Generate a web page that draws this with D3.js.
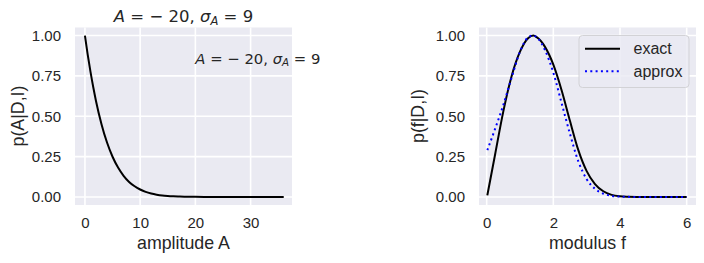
<!DOCTYPE html>
<html><head><meta charset="utf-8">
<script src="https://cdn.jsdelivr.net/npm/d3@7"></script>
<style>body{margin:0;background:#fff}svg{display:block}</style>
</head><body>
<svg id="c" width="704" height="263"></svg>
<script>
// ---- data ----
const ampA  = [0,0.5,1,1.5,2,3,4,5,6,7,8,9,10,11,12,13,14,15,16,17,18,20,22,24,26,28,30,32,34,36];
const probA = [1,0.882,0.776,0.681,0.595,0.451,0.337,0.249,0.182,0.131,0.093,0.066,0.046,0.031,0.021,0.014,0.009,0.006,0.004,0.0025,0.0016,0.0006,0.0002,0,0,0,0,0,0,0];
const modF   = [0.02,0.25,0.5,0.75,1,1.25,1.4,1.5,1.75,2,2.25,2.5,2.75,3,3.25,3.5,3.75,4,4.25,4.5,5,5.5,6];
const exact  = [0.01,0.26,0.53,0.75,0.90,0.985,1.0,0.99,0.93,0.82,0.66,0.47,0.29,0.16,0.08,0.035,0.013,0.004,0.001,0,0,0,0];
const approx = [0.29,0.42,0.57,0.74,0.90,0.99,1.0,0.99,0.91,0.77,0.58,0.39,0.22,0.11,0.05,0.02,0.007,0.002,0.0005,0,0,0,0];
const xTicksA = [0,10,20,30];
const xTicksF = [0,2,4,6];
const yTicks  = [0,0.25,0.5,0.75,1.0];
const legendLabels = ["exact","approx"];

const svg = d3.select("#c");
const BG = "#EAEAF2", TXT = "#262626";
const tickFont = "'Liberation Sans', Arial, sans-serif";
const mathFont = "'DejaVu Sans', sans-serif";

function panel(cfg){
  const x = d3.scaleLinear().domain(cfg.xd).range(cfg.xr);
  const y = d3.scaleLinear().domain([-0.05,1.05]).range([205,27.5]);
  const g = svg.append("g");
  g.append("rect").attr("x",cfg.xr[0]).attr("y",27.5)
    .attr("width",cfg.xr[1]-cfg.xr[0]).attr("height",205-27.5).attr("fill",BG);
  // grid
  g.selectAll(".gx").data(cfg.xt).join("line")
    .attr("x1",d=>x(d)).attr("x2",d=>x(d)).attr("y1",27.5).attr("y2",205)
    .attr("stroke","#fff").attr("stroke-width",1.6);
  g.selectAll(".gy").data(yTicks).join("line")
    .attr("y1",d=>y(d)).attr("y2",d=>y(d)).attr("x1",cfg.xr[0]).attr("x2",cfg.xr[1])
    .attr("stroke","#fff").attr("stroke-width",1.6);
  // axes via d3 axis, no lines
  const ax = g.append("g").attr("transform","translate(0,213)")
    .call(d3.axisBottom(x).tickValues(cfg.xt).tickSize(0).tickPadding(0).tickFormat(d3.format("d")));
  ax.select(".domain").remove();
  ax.selectAll("text").attr("font-family",tickFont).attr("font-size",15).attr("fill",TXT).attr("dy","0.71em").attr("y",4);
  const ay = g.append("g").attr("transform",`translate(${cfg.xr[0]-14},0)`)
    .call(d3.axisLeft(y).tickValues(yTicks).tickSize(0).tickPadding(0).tickFormat(d3.format(".2f")));
  ay.select(".domain").remove();
  ay.selectAll("text").attr("font-family",tickFont).attr("font-size",15).attr("fill",TXT);
  // labels
  g.append("text").attr("x",(cfg.xr[0]+cfg.xr[1])/2).attr("y",248.5).attr("text-anchor","middle")
    .attr("font-family",tickFont).attr("font-size",17.8).attr("fill",TXT).text(cfg.xl);
  g.append("text").attr("transform",`translate(${cfg.ylx},116) rotate(-90)`).attr("text-anchor","middle")
    .attr("font-family",tickFont).attr("font-size",17.8).attr("fill",TXT).text(cfg.yl);
  return {x,y,g};
}

function mathLabel(sel, size){
  sel.attr("font-family",mathFont).attr("font-size",size).attr("fill",TXT);
  sel.append("tspan").attr("font-style","italic").text("A");
  sel.append("tspan").text(" = − 20, ");
  sel.append("tspan").attr("font-style","italic").text("σ");
  sel.append("tspan").attr("font-style","italic").attr("font-size",size*0.7).attr("dy",size*0.2).text("A");
  sel.append("tspan").attr("dy",-size*0.2).text(" = 9");
}

// left panel
const L = panel({xd:[-1.8,37.5], xr:[75,292], xt:xTicksA, xl:"amplitude A", yl:"p(A|D,I)", ylx:24});
const lineL = d3.line().x((d,i)=>L.x(ampA[i])).y(d=>L.y(d)).curve(d3.curveMonotoneX);
L.g.append("path").attr("d",lineL(probA)).attr("fill","none").attr("stroke","#000").attr("stroke-width",2);
const t1 = svg.append("text").attr("x",183.5).attr("y",21.5).attr("text-anchor","middle");
mathLabel(t1, 16.5);
const t2 = svg.append("text").attr("x",L.x(20)).attr("y",63.5);
mathLabel(t2, 14.8);

// right panel
const R = panel({xd:[-0.23,6.28], xr:[479,696], xt:xTicksF, xl:"modulus f", yl:"p(f|D,I)", ylx:424});
const lineR = d3.line().x((d,i)=>R.x(modF[i])).y(d=>R.y(d)).curve(d3.curveMonotoneX);
R.g.append("path").attr("d",lineR(exact)).attr("fill","none").attr("stroke","#000").attr("stroke-width",2);
R.g.append("path").attr("d",lineR(approx)).attr("fill","none").attr("stroke","#0000ff").attr("stroke-width",2)
  .attr("stroke-dasharray","2,3.3");

// legend
const lg = svg.append("g");
lg.append("rect").attr("x",579).attr("y",35.5).attr("width",110).attr("height",52).attr("rx",3.5)
  .attr("fill",BG).attr("fill-opacity",0.8).attr("stroke","#d2d2d6").attr("stroke-width",1);
const styles = [{c:"#000",d:null},{c:"#0000ff",d:"2,3.3"}];
legendLabels.forEach((lab,i)=>{
  const yy = 48.7 + i*22.6;
  lg.append("line").attr("x1",585).attr("x2",620).attr("y1",yy).attr("y2",yy)
    .attr("stroke",styles[i].c).attr("stroke-width",2).attr("stroke-dasharray",styles[i].d);
  lg.append("text").attr("x",633.5).attr("y",yy+5.5).attr("font-family",tickFont).attr("font-size",16)
    .attr("fill",TXT).text(lab);
});
</script>
</body></html>
